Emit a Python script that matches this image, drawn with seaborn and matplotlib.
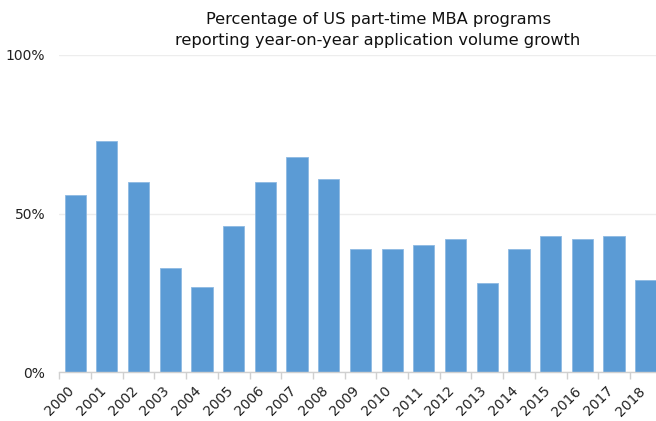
import matplotlib
matplotlib.use("Agg")
import matplotlib.pyplot as plt
import matplotlib.transforms as mtransforms
import numpy as np
import pandas as pd
import seaborn as sns

# data
years = ["2000", "2001", "2002", "2003", "2004", "2005", "2006", "2007", "2008", "2009",
         "2010", "2011", "2012", "2013", "2014", "2015", "2016", "2017", "2018"]
pct_growth = [56, 73, 60, 33, 27, 46, 60, 68, 61, 39,
              39, 40, 42, 28, 39, 43, 42, 43, 29]
y_ticks = [0, 50, 100]
y_tick_labels = ["0%", "50%", "100%"]

df = pd.DataFrame({"year": years, "pct": pct_growth})

sns.set_theme(style="white")
plt.rcParams["font.family"] = ["DejaVu Sans"]

fig = plt.figure(figsize=(6.56, 4.21), dpi=100)
ax = fig.add_axes([59.3 / 656, 48.7 / 421, 602.3 / 656, 317.3 / 421])

sns.barplot(data=df, x="year", y="pct", color="#5B9BD5", saturation=1,
            width=0.67, edgecolor="#8DB9E2", linewidth=0.6, ax=ax)

ax.set_ylim(0, 100)
ax.set_xlim(-0.5, len(years) - 0.5)
ax.set_yticks(y_ticks)
ax.set_yticklabels(y_tick_labels, fontsize=10, color="#222222")
ax.yaxis.grid(True, color="#EDEDED", linewidth=1)
ax.set_axisbelow(True)

# category boundary ticks
ax.set_xticks(np.arange(-0.5, len(years), 1), minor=True)
ax.tick_params(axis="x", which="minor", length=5, color="#D0D0D0", width=1, bottom=True)
ax.tick_params(axis="x", which="major", length=0, pad=4)
ax.tick_params(axis="y", length=0, pad=10)
ax.set_xticks(range(len(years)))
ax.set_xticklabels(years, rotation=45, ha="right", rotation_mode="anchor",
                   fontsize=10, color="#222222")
shift = mtransforms.ScaledTranslation(-8 / 100, -6 / 100, fig.dpi_scale_trans)
for lbl in ax.get_xticklabels():
    lbl.set_transform(lbl.get_transform() + shift)

for s in ["top", "right", "left"]:
    ax.spines[s].set_visible(False)
ax.spines["bottom"].set_color("#D0D0D0")
ax.spines["bottom"].set_linewidth(1)

ax.set_xlabel("")
ax.set_ylabel("")

fig.text(378 / 656, 1 - 30 / 421,
         "Percentage of US part-time MBA programs\nreporting year-on-year application volume growth",
         ha="center", va="center", fontsize=11.7, color="#111111", linespacing=1.5)

fig.savefig("out.png", dpi=100)
plt.close()
